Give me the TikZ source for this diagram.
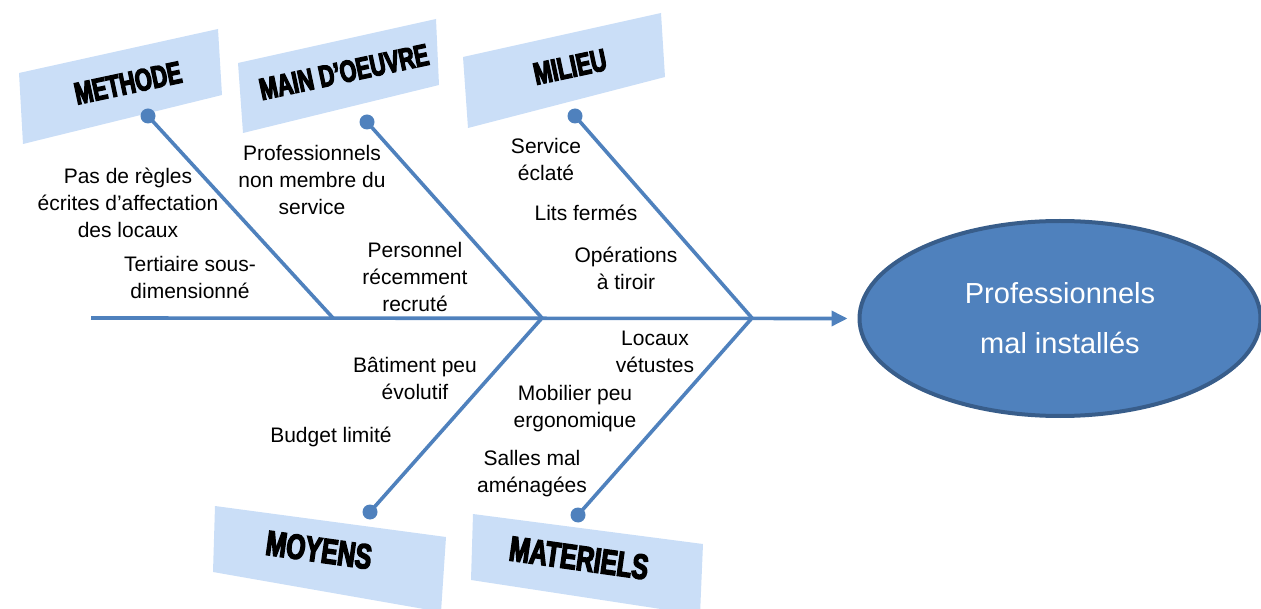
\documentclass[tikz,border=0pt]{standalone}
\usepackage{fontspec}
\setmainfont{Liberation Sans}
\newfontfamily\wafont[FakeBold=4,FakeStretch=0.7]{Liberation Sans Bold}
\usetikzlibrary{shapes.geometric,arrows.meta,calc}
\definecolor{bonecol}{RGB}{79,129,189}
\definecolor{edgecol}{RGB}{56,93,138}
\definecolor{boxcol}{RGB}{202,222,247}
\begin{document}
\begin{tikzpicture}[x=1pt,y=-1pt,
  bone/.style={draw=bonecol,line width=3.6pt},
  dot/.style={circle,fill=bonecol,inner sep=0pt,minimum size=15pt},
  hbox/.style={fill=boxcol,draw=none},
  lbl/.style={align=center,inner sep=0pt,font=\fontsize{21}{27}\selectfont},
  watext/.style={inner sep=0pt,text=black},
  watop/.style={watext,rotate=12,font=\wafont\fontsize{31}{31}\selectfont},
  wabot/.style={watext,rotate=-8,font=\wafont\fontsize{35}{35}\selectfont},
  effect/.style={ellipse,draw=edgecol,line width=4pt,fill=bonecol,text=white,
    minimum width=401pt,minimum height=195pt,align=center,
    font=\fontsize{29}{50}\selectfont}]
\useasboundingbox (0,0) rectangle (1261,609);

% header boxes
\fill[hbox] (19,73) -- (218,29) -- (222,95) -- (23,144) -- cycle;
\fill[hbox] (238,63) -- (436,19) -- (439,85) -- (243,133) -- cycle;
\fill[hbox] (463,57) -- (661,13) -- (665,77) -- (468,128) -- cycle;
\fill[hbox] (215,506) -- (446,537) -- (441,612) -- (213,572) -- cycle;
\fill[hbox] (473,514) -- (703,544) -- (700,615) -- (471,580) -- cycle;

% header texts
\node[watop] (tMethode) at (128,83) {METHODE};
\node[watop,font=\wafont\fontsize{30.5}{30.5}\selectfont] (tMain) at (344,72) {MAIN D’OEUVRE};
\node[watop] (tMilieu) at (570,67) {MILIEU};
\node[wabot] (tMoyens) at (319,550) {MOYENS};
\node[wabot] (tMat) at (579,558) {MATERIELS};

% effect
\node[effect] (eff) at (1060,318.5) {Professionnels\\mal installés};

% spine
\coordinate (s0) at (91,318);
\coordinate (j1) at (333,318);
\coordinate (j2) at (542,318);
\coordinate (j3) at (752,318);
\draw[bone,-{Triangle[length=16pt,width=15pt]}] (s0) -- ([xshift=-10pt]eff.west);

% bones
\node[dot] (dMethode) at (148,116) {};
\node[dot] (dMain) at (367,122) {};
\node[dot] (dMilieu) at (575,116) {};
\node[dot] (dMoyens) at (370,512) {};
\node[dot] (dMat) at (578,515) {};
\draw[bone] (dMethode.center) -- (j1);
\draw[bone] (dMain.center) -- (j2);
\draw[bone] (dMilieu.center) -- (j3);
\draw[bone] (dMoyens.center) -- (j2);
\draw[bone] (dMat.center) -- (j3);

% labels
\node[lbl] (l1) at (128,203) {Pas de règles\\écrites d’affectation\\des locaux};
\node[lbl] (l2) at (190,277) {Tertiaire sous-\\dimensionné};
\node[lbl] (l3) at (312,180) {Professionnels\\non membre du\\service};
\node[lbl] (l4) at (415,277) {Personnel\\récemment\\recruté};
\node[lbl] (l5) at (546,159) {Service\\éclaté};
\node[lbl] (l6) at (586,213) {Lits fermés};
\node[lbl] (l7) at (626,268) {Opérations\\à tiroir};
\node[lbl] (l8) at (655,352) {Locaux\\vétustes};
\node[lbl] (l9) at (575,409) {Mobilier peu\\ergonomique};
\node[lbl] (l10) at (532,474) {Salles mal\\aménagées};
\node[lbl] (l11) at (415,378) {Bâtiment peu\\évolutif};
\node[lbl] (l12) at (331,437) {Budget limité};
\end{tikzpicture}
\end{document}
